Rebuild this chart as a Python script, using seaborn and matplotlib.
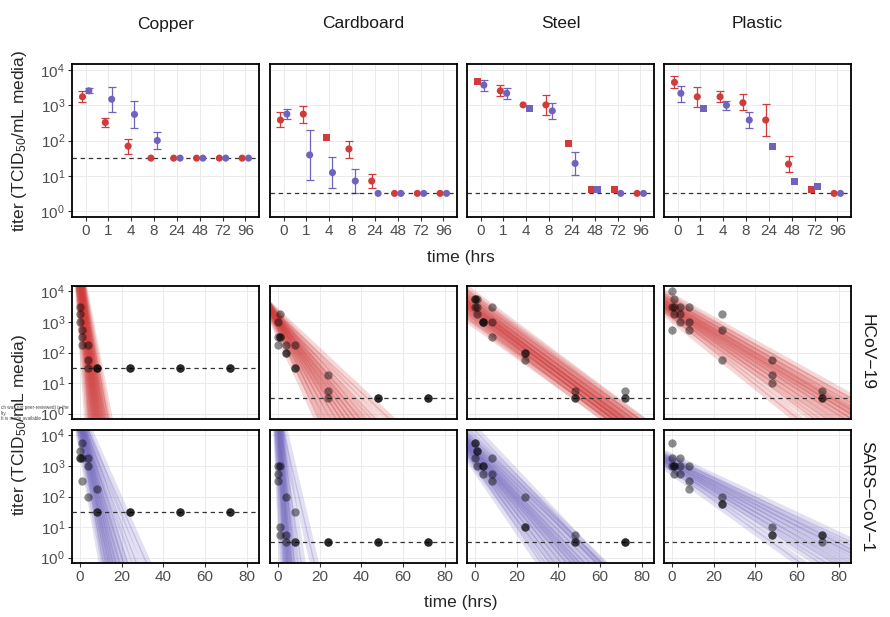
import numpy as np
import pandas as pd
import matplotlib
matplotlib.use("Agg")
import matplotlib.pyplot as plt
import seaborn as sns
from matplotlib.ticker import NullLocator

nan = np.nan

MATERIALS = ["Copper", "Cardboard", "Steel", "Plastic"]
VIRUSES = ["HCoV\u221219", "SARS\u2212CoV\u22121"]
TIME_LABELS = ["0", "1", "4", "8", "24", "48", "72", "96"]
DETECTION_LIMIT = [1.5, 0.5, 0.5, 0.5]  # log10 titer, one per material

# top row: mean log10 titer per time point, error bar ends (nan = no bar), marker per point
cov2_mean = {
    "Copper": [3.24, 2.51, 1.84, 1.50, 1.50, 1.50, 1.50, 1.50],
    "Cardboard": [2.58, 2.75, 2.08, 1.76, 0.85, 0.50, 0.50, 0.50],
    "Steel": [3.67, 3.41, 3.01, 3.01, 1.92, 0.61, 0.61, 0.50],
    "Plastic": [3.65, 3.24, 3.24, 3.07, 2.58, 1.33, 0.60, 0.50],
}
cov2_low = {
    "Copper": [3.10, 2.37, 1.62, nan, nan, nan, nan, nan],
    "Cardboard": [2.37, 2.51, nan, 1.51, 0.64, nan, nan, nan],
    "Steel": [nan, 3.26, nan, 2.72, nan, nan, nan, nan],
    "Plastic": [3.50, 2.96, 3.10, 2.87, 2.14, 1.12, nan, nan],
}
cov2_high = {
    "Copper": [3.39, 2.65, 2.05, nan, nan, nan, nan, nan],
    "Cardboard": [2.80, 2.99, nan, 1.99, 1.05, nan, nan, nan],
    "Steel": [nan, 3.57, nan, 3.29, nan, nan, nan, nan],
    "Plastic": [3.83, 3.53, 3.40, 3.31, 3.03, 1.56, nan, nan],
}
cov2_shape = {"Copper": "oooooooo", "Cardboard": "oosooooo",
              "Steel": "sooossso", "Plastic": "ooooooso"}

cov1_mean = {
    "Copper": [3.41, 3.17, 2.74, 2.00, 1.50, 1.50, 1.50, 1.50],
    "Cardboard": [2.75, 1.59, 1.09, 0.85, 0.50, 0.50, 0.50, 0.50],
    "Steel": [3.57, 3.34, 2.91, 2.84, 1.35, 0.61, 0.50, 0.50],
    "Plastic": [3.34, 2.91, 3.00, 2.58, 1.82, 0.85, 0.69, 0.50],
}
cov1_low = {
    "Copper": [3.34, 2.80, 2.36, 1.75, nan, nan, nan, nan],
    "Cardboard": [2.61, 0.88, 0.64, 0.52, nan, nan, nan, nan],
    "Steel": [3.41, 3.17, nan, 2.61, 1.02, nan, nan, nan],
    "Plastic": [3.10, nan, 2.87, 2.36, nan, nan, nan, nan],
}
cov1_high = {
    "Copper": [3.48, 3.53, 3.13, 2.25, nan, nan, nan, nan],
    "Cardboard": [2.88, 2.30, 1.54, 1.18, nan, nan, nan, nan],
    "Steel": [3.73, 3.48, nan, 3.06, 1.67, nan, nan, nan],
    "Plastic": [3.55, nan, 3.13, 2.80, nan, nan, nan, nan],
}
cov1_shape = {"Copper": "oooooooo", "Cardboard": "oooooooo",
              "Steel": "oosoosoo", "Plastic": "osoossso"}

# bottom rows: replicate log10 titers at these sampling times
REPLICATE_TIMES = [0, 0, 0, 1, 1, 1, 4, 4, 4, 8, 8, 8, 24, 24, 24, 48, 48, 48, 72, 72, 72]
cov2_replicates = {
    "Copper": [3.5, 3.25, 3.0, 2.75, 2.5, 2.25, 2.25, 1.75, 1.5, 1.5, 1.5, 1.5,
               1.5, 1.5, 1.5, 1.5, 1.5, 1.5, 1.5, 1.5, 1.5],
    "Cardboard": [3.0, 2.5, 2.25, 3.25, 2.5, 2.5, 2.25, 2.0, 2.0, 2.25, 1.5, 1.5,
                  1.25, 0.75, 0.5, 0.5, 0.5, 0.5, 0.5, 0.5, 0.5],
    "Steel": [3.75, 3.75, 3.5, 3.75, 3.5, 3.25, 3.0, 3.0, 3.0, 3.5, 3.0, 2.5,
              2.0, 2.0, 1.75, 0.75, 0.5, 0.5, 0.75, 0.5, 0.5],
    "Plastic": [4.0, 3.5, 2.75, 3.75, 3.5, 3.25, 3.5, 3.25, 3.0, 3.5, 3.0, 2.75,
                3.25, 2.75, 1.75, 1.75, 1.25, 1.0, 0.75, 0.5, 0.5],
}
cov1_replicates = {
    "Copper": [3.5, 3.25, 3.25, 3.75, 3.25, 2.5, 3.25, 3.0, 2.0, 2.25, 1.5, 1.5,
               1.5, 1.5, 1.5, 1.5, 1.5, 1.5, 1.5, 1.5, 1.5],
    "Cardboard": [3.0, 2.75, 2.5, 3.0, 1.0, 0.75, 2.0, 0.75, 0.5, 1.5, 0.5, 0.5,
                  0.5, 0.5, 0.5, 0.5, 0.5, 0.5, 0.5, 0.5, 0.5],
    "Steel": [3.75, 3.75, 3.25, 3.5, 3.5, 3.0, 3.0, 3.0, 2.75, 3.25, 2.75, 2.5,
              2.0, 1.0, 1.0, 0.75, 0.5, 0.5, 0.5, 0.5, 0.5],
    "Plastic": [3.75, 3.25, 3.0, 3.0, 2.75, 3.0, 3.25, 3.0, 2.75, 3.0, 2.5, 2.25,
                2.0, 1.75, 1.75, 1.0, 0.75, 0.75, 0.75, 0.75, 0.5],
}

# fitted decay lines: log10 titer at t=0 and slope per hour
cov2_intercepts = {
    "Copper": [4.00, 4.10, 4.20, 4.25, 4.30, 4.30, 4.35, 4.40, 4.40, 4.45, 4.50, 4.55, 4.60],
    "Cardboard": [2.75, 2.85, 2.90, 2.95, 3.00, 3.00, 3.05, 3.10, 3.10, 3.15, 3.20, 3.25],
    "Steel": [2.95, 3.05, 3.15, 3.25, 3.30, 3.35, 3.40, 3.45, 3.50, 3.55, 3.65, 3.75, 3.85],
    "Plastic": [3.15, 3.25, 3.30, 3.35, 3.40, 3.45, 3.50, 3.55, 3.60, 3.70, 3.78],
}
cov2_slopes = {
    "Copper": [-1.00, -0.85, -0.75, -0.68, -0.62, -0.57, -0.53, -0.50, -0.47, -0.44, -0.41, -0.38, -0.35],
    "Cardboard": [-0.150, -0.135, -0.122, -0.112, -0.105, -0.098, -0.093, -0.088, -0.083, -0.078, -0.072, -0.064],
    "Steel": [-0.049, -0.051, -0.050, -0.052, -0.050, -0.051, -0.052, -0.050, -0.051, -0.049, -0.052, -0.050, -0.051],
    "Plastic": [-0.055, -0.050, -0.047, -0.045, -0.043, -0.042, -0.041, -0.040, -0.040, -0.039, -0.038],
}
cov1_intercepts = {
    "Copper": [4.15, 4.25, 4.35, 4.40, 4.45, 4.50, 4.55, 4.60, 4.65, 4.70, 4.78],
    "Cardboard": [4.10, 4.30, 4.50, 4.60, 4.70, 4.75, 4.80, 4.85, 4.90],
    "Steel": [3.00, 3.10, 3.20, 3.30, 3.35, 3.40, 3.45, 3.50, 3.55, 3.65, 3.75, 3.85, 4.16],
    "Plastic": [2.85, 2.95, 3.00, 3.05, 3.10, 3.15, 3.20, 3.26],
}
cov1_slopes = {
    "Copper": [-0.39, -0.36, -0.33, -0.31, -0.29, -0.27, -0.25, -0.23, -0.21, -0.18, -0.155],
    "Cardboard": [-1.60, -1.30, -1.10, -0.95, -0.85, -0.75, -0.62, -0.45, -0.29],
    "Steel": [-0.100, -0.092, -0.088, -0.084, -0.080, -0.077, -0.075, -0.073, -0.071, -0.069, -0.067, -0.066, -0.072],
    "Plastic": [-0.049, -0.044, -0.041, -0.039, -0.037, -0.035, -0.034, -0.032],
}

RED = "#D03B3B"
PURPLE = "#6F64BD"
GRID = "#EBEBEB"
TICK_TEXT = "#4D4D4D"

sns.set_theme(style="white")
plt.rcParams["font.family"] = ["Liberation Sans", "DejaVu Sans"]
plt.rcParams["mathtext.fontset"] = "custom"
plt.rcParams["mathtext.rm"] = "Liberation Sans"
plt.rcParams["mathtext.it"] = "Liberation Sans:italic"
plt.rcParams["mathtext.bf"] = "Liberation Sans:bold"

W, H = 890, 617
fig = plt.figure(figsize=(W / 100, H / 100), dpi=100)

PANEL_LEFT = [72, 270, 467, 664]
PANEL_WIDTH = 187
ROWS = [(64, 217), (286, 419), (430, 563)]  # top / bottom pixel edges


def add_panel(col, row):
    top, bottom = ROWS[row]
    rect = [PANEL_LEFT[col] / W, 1 - bottom / H, PANEL_WIDTH / W, (bottom - top) / H]
    return fig.add_axes(rect)


def style_panel(ax, show_y, show_x):
    ax.set_yscale("log")
    ax.yaxis.set_minor_locator(NullLocator())
    ax.set_yticks([10.0 ** k for k in range(5)])
    ax.set_yticklabels([f"$10^{{{k}}}$" for k in range(5)])
    ax.grid(True, color=GRID, lw=0.7)
    ax.set_axisbelow(True)
    for spine in ax.spines.values():
        spine.set_color("black")
        spine.set_linewidth(1.3)
    ax.tick_params(axis="both", colors="#333333", labelcolor=TICK_TEXT, labelsize=11,
                   length=3, width=0.8, pad=2, direction="out")
    ax.tick_params(axis="y", left=show_y, labelleft=show_y)
    ax.tick_params(axis="x", bottom=show_x, labelbottom=show_x)
    ax.set_xlabel("")
    ax.set_ylabel("")


# ---- top row: means with error bars on a categorical time axis
for col, material in enumerate(MATERIALS):
    ax = add_panel(col, 0)
    positions = np.arange(len(TIME_LABELS))
    for mean, low, high, shape, color, shift in [
        (cov2_mean, cov2_low, cov2_high, cov2_shape, RED, -0.14),
        (cov1_mean, cov1_low, cov1_high, cov1_shape, PURPLE, 0.14),
    ]:
        frame = pd.DataFrame({
            "pos": positions + shift,
            "titer": 10.0 ** np.array(mean[material]),
            "low": 10.0 ** np.array(low[material]),
            "high": 10.0 ** np.array(high[material]),
            "shape": list(shape[material]),
        })
        bars = frame.dropna()
        ax.errorbar(bars["pos"], bars["titer"],
                    yerr=[bars["titer"] - bars["low"], bars["high"] - bars["titer"]],
                    fmt="none", ecolor=color, elinewidth=0.9, capsize=2.6, capthick=0.9)
        sns.scatterplot(data=frame, x="pos", y="titer", style="shape",
                        markers={"o": "o", "s": "s"}, color=color, s=26,
                        linewidth=0, legend=False, ax=ax, zorder=3)
    ax.axhline(10.0 ** DETECTION_LIMIT[col], color="#333333", lw=0.9, ls=(0, (3.5, 3)), zorder=2)
    style_panel(ax, show_y=(col == 0), show_x=True)
    ax.set_xticks(positions)
    ax.set_xticklabels(TIME_LABELS)
    ax.set_xlim(-0.6, len(TIME_LABELS) - 0.4)
    ax.set_ylim(10 ** -0.17, 10 ** 4.17)
    fig.text((PANEL_LEFT[col] + PANEL_WIDTH / 2) / W, 1 - 24 / H, material,
             ha="center", va="center", fontsize=12.5, color="#1A1A1A")

# ---- bottom rows: replicate titers with fitted decay lines
line_times = np.array([-5.0, 95.0])
for row, (virus, intercepts, slopes, replicates, color) in enumerate([
    (VIRUSES[0], cov2_intercepts, cov2_slopes, cov2_replicates, RED),
    (VIRUSES[1], cov1_intercepts, cov1_slopes, cov1_replicates, PURPLE),
], start=1):
    for col, material in enumerate(MATERIALS):
        ax = add_panel(col, row)
        lines = pd.DataFrame([
            {"draw": i, "time": t, "titer": 10.0 ** (a + b * t)}
            for i, (a, b) in enumerate(zip(intercepts[material], slopes[material]))
            for t in line_times
        ])
        sns.lineplot(data=lines, x="time", y="titer", units="draw", estimator=None,
                     color=color, alpha=0.2, lw=6.5, ax=ax, legend=False)
        sns.lineplot(data=lines, x="time", y="titer", units="draw", estimator=None,
                     color=color, alpha=0.25, lw=1.0, ax=ax, legend=False)
        points = pd.DataFrame({"time": REPLICATE_TIMES,
                               "titer": 10.0 ** np.array(replicates[material])})
        sns.scatterplot(data=points, x="time", y="titer", color="black", alpha=0.45,
                        s=36, linewidth=0, legend=False, ax=ax, zorder=4)
        ax.axhline(10.0 ** DETECTION_LIMIT[col], color="#333333", lw=0.9, ls=(0, (3.5, 3)), zorder=3)
        style_panel(ax, show_y=(col == 0), show_x=(row == 2))
        ax.set_xticks([0, 20, 40, 60, 80])
        ax.set_xlim(-3.8, 86)
        ax.set_ylim(10 ** -0.18, 10 ** 4.18)
    top, bottom = ROWS[row]
    fig.text(867 / W, 1 - (top + bottom) / 2 / H, virus, rotation=-90,
             ha="center", va="center", fontsize=12.5, color="#1A1A1A")

# axis titles
fig.text(461 / W, 1 - 257 / H, "time (hrs", ha="center", va="center", fontsize=12.5)
fig.text(461 / W, 1 - 603 / H, "time (hrs)", ha="center", va="center", fontsize=12.5)
ylabel = "titer (TCID$_{50}$/mL media)"
fig.text(20 / W, 1 - 140.5 / H, ylabel, rotation=90, ha="center", va="center", fontsize=12.5)
fig.text(20 / W, 1 - 424.5 / H, ylabel, rotation=90, ha="center", va="center", fontsize=12.5)

# stray watermark fragment left of the middle row (it sits over the y title in the source too)
fig.text(1 / W, 1 - 413 / H, "ch was not peer-reviewed) is the\nlity.\nIt is made available",
         ha="left", va="center", fontsize=3.3, color="#444444", linespacing=1.0)

fig.savefig("out.png", dpi=100)
